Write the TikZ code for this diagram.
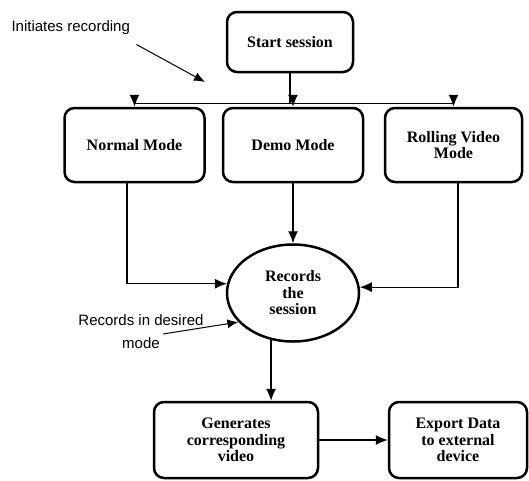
\documentclass[tikz,border=0pt]{standalone}
\usepackage{fontspec}
\newfontfamily\boxserif{Liberation Serif}
\newfontfamily\notesans{Liberation Sans}
\usepackage{tikz}
\usetikzlibrary{arrows.meta,shapes,positioning}
\tikzset{
  basic/.style   = {draw, line width=2.5pt, align=center, rectangle,
                    font=\boxserif\bfseries\fontsize{16}{16.5}\selectfont},
  root/.style    = {basic, rounded corners=10pt, minimum width=126pt,
                    minimum height=60pt},
  modebox/.style = {basic, rounded corners=10pt, minimum width=140pt,
                    minimum height=74pt},
  recordnode/.style = {basic, ellipse, inner sep=0pt, minimum width=132pt,
                    minimum height=97pt},
  outbox/.style  = {basic, rounded corners=10pt, minimum height=76pt},
  notetext/.style = {font=\notesans\fontsize{15}{17}\selectfont, align=center},
  flow/.style    = {-{Latex[length=12pt,width=10pt]}, line width=1.2pt},
  pointer/.style = {-{Latex[length=11pt,width=9pt]}, line width=1pt}
}

\begin{document}
\begin{tikzpicture}[x=1pt, y=1pt]
\useasboundingbox (0,0) rectangle (529,-480);

% top of the flow
\node[root] (start) at (290,-42) {Start session};

% the three modes
\node[modebox, node distance=103pt, below of=start, xshift=3pt] (demo) {Demo Mode};
\node[modebox, node distance=158.5pt, left of=demo] (normal) {Normal Mode};
\node[modebox, node distance=160.5pt, right of=demo, minimum width=137pt] (rolling) {Rolling Video\\Mode};

% recording and output
\node[recordnode, node distance=148pt, below of=demo] (session) {Records\\the\\session};
\node[outbox, node distance=147pt, below of=session, xshift=-57pt,
      minimum width=164pt] (gen) {Generates\\corresponding\\video};
\node[outbox, node distance=222pt, right of=gen, minimum width=138pt] (export) {Export Data\\to external\\device};

% side notes
\node[notetext, anchor=west] (init) at (8,-28) {Initiates recording};
\coordinate (inittip) at (205,-82);
\node[notetext] (desired) at (141,-320) {Records in desired};
\node[notetext, node distance=23pt, below of=desired] (modenote) {mode};

% lines from start to every mode
\foreach \m in {normal,demo,rolling}
  \draw[flow] (start.south) -- ++(0,-30) -| (\m.north);

% modes into the session
\draw[flow] ([xshift=-7.5pt]normal.south) |- (session.172);
\draw[flow] (demo.south) -- (session.north);
\draw[flow] ([xshift=4.5pt]rolling.south) |- (session.5);

% session to output
\draw[flow] (session.245) -- (session.245 |- gen.north);
\draw[flow] (gen.east) -- (export.west);

% note arrows
\draw[pointer] ([xshift=3pt,yshift=-6pt]init.south east) -- (inittip);
\draw[pointer] (modenote.north east) -- (session.208);

\end{tikzpicture}
\end{document}
